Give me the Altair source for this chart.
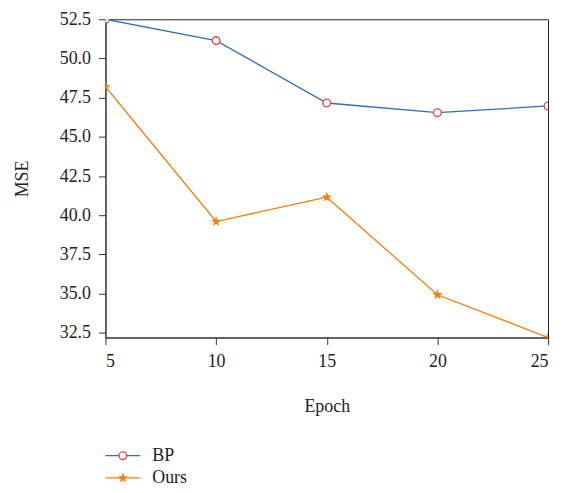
import altair as alt
import pandas as pd

epochs = [5, 10, 15, 20, 25]
bp_mse = [52.5, 51.14, 47.16, 46.54, 46.97]
ours_mse = [48.2, 39.6, 41.15, 34.93, 32.2]
series = ["BP", "Ours"]
y_ticks = [32.5, 35.0, 37.5, 40.0, 42.5, 45.0, 47.5, 50.0, 52.5]
x_ticks = [5, 10, 15, 20, 25]

FONT = "Liberation Serif"
BLUE = "#2f6fb3"
ORANGE = "#f27f0c"
RED = "#e8484a"
STAR = "M0,-1L0.235,-0.324L0.951,-0.309L0.38,0.124L0.588,0.809L0,0.4L-0.588,0.809L-0.38,0.124L-0.951,-0.309L-0.235,-0.324Z"

df = pd.DataFrame({
    "Epoch": epochs * 2,
    "MSE": bp_mse + ours_mse,
    "Series": ["BP"] * len(epochs) + ["Ours"] * len(epochs),
})

x_enc = alt.X("Epoch:Q",
              scale=alt.Scale(domain=[5, 25], nice=False, zero=False),
              axis=alt.Axis(values=x_ticks, title="Epoch", grid=False,
                            tickSize=7, labelPadding=8, titlePadding=27,
                            labelFontSize=18, titleFontSize=18,
                            labelFont=FONT, titleFont=FONT, titleFontWeight="normal",
                            domainColor="#333", tickColor="#333",
                            labelColor="#222", titleColor="#222"))
y_enc = alt.Y("MSE:Q",
              scale=alt.Scale(domain=[32.2, 52.5], nice=False, zero=False),
              axis=alt.Axis(values=y_ticks, format=".1f", title="MSE", grid=False,
                            tickSize=7, labelPadding=8, titlePadding=28,
                            labelFontSize=18, titleFontSize=18,
                            labelFont=FONT, titleFont=FONT, titleFontWeight="normal",
                            domainColor="#333", tickColor="#333",
                            labelColor="#222", titleColor="#222"))

base = alt.Chart(df)

bp_line = base.transform_filter(alt.datum.Series == "BP").mark_line(
    color=BLUE, strokeWidth=1.3, clip=True).encode(x=x_enc, y=y_enc)
bp_pts = base.transform_filter(alt.datum.Series == "BP").mark_point(
    shape="circle", filled=True, fill="white", stroke=RED, strokeWidth=1.4,
    size=60, opacity=1, clip=True).encode(x=x_enc, y=y_enc)
ours_line = base.transform_filter(alt.datum.Series == "Ours").mark_line(
    color=ORANGE, strokeWidth=1.3, clip=True).encode(x=x_enc, y=y_enc)
ours_pts = base.transform_filter(alt.datum.Series == "Ours").mark_point(
    shape=STAR, filled=True, color=ORANGE, size=120, opacity=1, clip=True).encode(x=x_enc, y=y_enc)

main = alt.layer(bp_line, ours_line, bp_pts, ours_pts).properties(
    width=445, height=320,
    view=alt.ViewBackground(stroke="#222", strokeWidth=1))

# Legend built from the series list
leg_df = pd.DataFrame({"Series": series, "x0": [0, 0], "x1": [1, 1], "xm": [0.5, 0.5]})
leg_x = alt.Scale(domain=[0, 1])
leg_y = alt.Y("Series:N", scale=alt.Scale(domain=series, padding=0.5), axis=None)
leg_color = alt.Color("Series:N", scale=alt.Scale(domain=series, range=[BLUE, ORANGE]), legend=None)
leg_base = alt.Chart(leg_df)
leg_lines = leg_base.mark_rule(strokeWidth=1.3).encode(
    x=alt.X("x0:Q", scale=leg_x, axis=None), x2="x1:Q", y=leg_y, color=leg_color)
leg_bp = leg_base.transform_filter(alt.datum.Series == "BP").mark_point(
    shape="circle", filled=True, fill="white", stroke=RED, strokeWidth=1.4, size=60, opacity=1
).encode(x=alt.X("xm:Q", scale=leg_x, axis=None), y=leg_y)
leg_ours = leg_base.transform_filter(alt.datum.Series == "Ours").mark_point(
    shape=STAR, filled=True, color=ORANGE, size=120, opacity=1
).encode(x=alt.X("xm:Q", scale=leg_x, axis=None), y=leg_y)
leg_text = leg_base.mark_text(align="left", dx=12, fontSize=18, font=FONT, color="#222").encode(
    x=alt.X("x1:Q", scale=leg_x, axis=None), y=leg_y, text="Series:N")
legend = alt.layer(leg_lines, leg_bp, leg_ours, leg_text).properties(
    width=35, height=56, view=alt.ViewBackground(stroke=None))

chart = alt.vconcat(main, legend, spacing=102, bounds="flush").properties(
    padding={"left": 5, "top": 0, "right": 5, "bottom": 0})

chart.save("out.html", embed_options={"renderer": "svg", "actions": False})
